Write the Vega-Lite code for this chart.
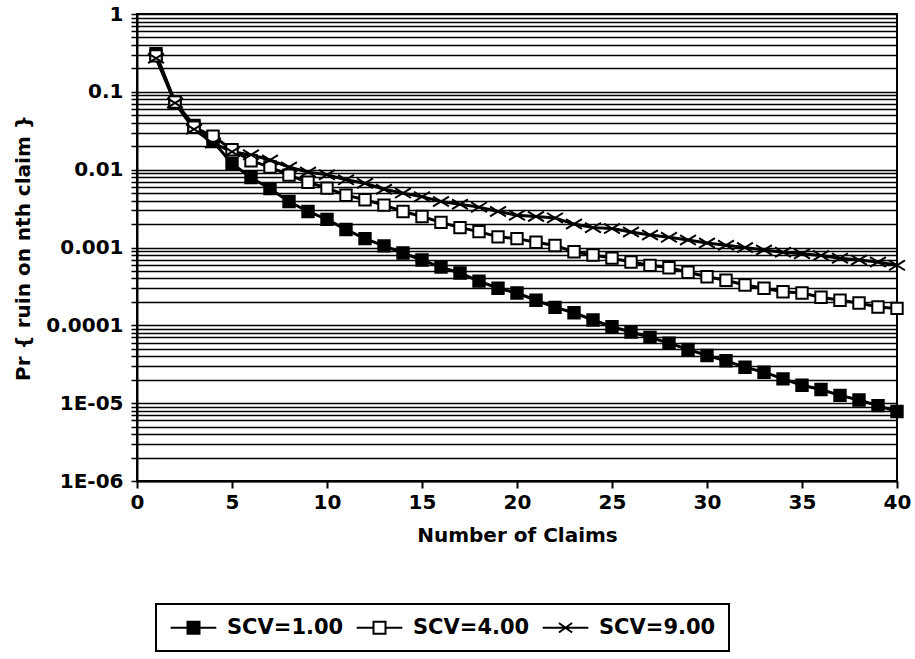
{
  "$schema": "https://vega.github.io/schema/vega-lite/v6.json",
  "width": 760,
  "height": 467,
  "autosize": {"type": "none"},
  "padding": {"left": 137, "top": 14, "right": 18, "bottom": 178},
  "background": "white",
  "config": {"view": {"stroke": "black", "strokeWidth": 2}, "font": "DejaVu Sans", "legend": {"strokeWidth": 2, "symbolStrokeColor": "black", "symbolStrokeWidth": 2}},
  "data": {"values": [
    {"n":1,"s":"SCV=1.00","p":0.31},{"n":2,"s":"SCV=1.00","p":0.074},{"n":3,"s":"SCV=1.00","p":0.037},{"n":4,"s":"SCV=1.00","p":0.023},{"n":5,"s":"SCV=1.00","p":0.012},
    {"n":6,"s":"SCV=1.00","p":0.0079},{"n":7,"s":"SCV=1.00","p":0.0057},{"n":8,"s":"SCV=1.00","p":0.0039},{"n":9,"s":"SCV=1.00","p":0.0029},{"n":10,"s":"SCV=1.00","p":0.0023},
    {"n":11,"s":"SCV=1.00","p":0.0017},{"n":12,"s":"SCV=1.00","p":0.0013},{"n":13,"s":"SCV=1.00","p":0.00105},{"n":14,"s":"SCV=1.00","p":0.00085},{"n":15,"s":"SCV=1.00","p":0.00069},
    {"n":16,"s":"SCV=1.00","p":0.00056},{"n":17,"s":"SCV=1.00","p":0.00047},{"n":18,"s":"SCV=1.00","p":0.00037},{"n":19,"s":"SCV=1.00","p":0.0003},{"n":20,"s":"SCV=1.00","p":0.00026},
    {"n":21,"s":"SCV=1.00","p":0.00021},{"n":22,"s":"SCV=1.00","p":0.00017},{"n":23,"s":"SCV=1.00","p":0.000145},{"n":24,"s":"SCV=1.00","p":0.000117},{"n":25,"s":"SCV=1.00","p":0.000096},
    {"n":26,"s":"SCV=1.00","p":0.000082},{"n":27,"s":"SCV=1.00","p":0.00007},{"n":28,"s":"SCV=1.00","p":0.000059},{"n":29,"s":"SCV=1.00","p":0.000049},{"n":30,"s":"SCV=1.00","p":0.000041},
    {"n":31,"s":"SCV=1.00","p":0.000035},{"n":32,"s":"SCV=1.00","p":0.000029},{"n":33,"s":"SCV=1.00","p":0.000025},{"n":34,"s":"SCV=1.00","p":0.0000205},{"n":35,"s":"SCV=1.00","p":0.000017},
    {"n":36,"s":"SCV=1.00","p":0.000015},{"n":37,"s":"SCV=1.00","p":0.0000126},{"n":38,"s":"SCV=1.00","p":0.000011},{"n":39,"s":"SCV=1.00","p":0.0000093},{"n":40,"s":"SCV=1.00","p":0.0000078},
    {"n":1,"s":"SCV=4.00","p":0.29},{"n":2,"s":"SCV=4.00","p":0.074},{"n":3,"s":"SCV=4.00","p":0.035},{"n":4,"s":"SCV=4.00","p":0.027},{"n":5,"s":"SCV=4.00","p":0.018},
    {"n":6,"s":"SCV=4.00","p":0.013},{"n":7,"s":"SCV=4.00","p":0.0108},{"n":8,"s":"SCV=4.00","p":0.0085},{"n":9,"s":"SCV=4.00","p":0.0069},{"n":10,"s":"SCV=4.00","p":0.0058},
    {"n":11,"s":"SCV=4.00","p":0.0047},{"n":12,"s":"SCV=4.00","p":0.0041},{"n":13,"s":"SCV=4.00","p":0.0035},{"n":14,"s":"SCV=4.00","p":0.0029},{"n":15,"s":"SCV=4.00","p":0.0025},
    {"n":16,"s":"SCV=4.00","p":0.0021},{"n":17,"s":"SCV=4.00","p":0.0018},{"n":18,"s":"SCV=4.00","p":0.0016},{"n":19,"s":"SCV=4.00","p":0.00137},{"n":20,"s":"SCV=4.00","p":0.0013},
    {"n":21,"s":"SCV=4.00","p":0.00117},{"n":22,"s":"SCV=4.00","p":0.00106},{"n":23,"s":"SCV=4.00","p":0.00088},{"n":24,"s":"SCV=4.00","p":0.0008},{"n":25,"s":"SCV=4.00","p":0.00073},
    {"n":26,"s":"SCV=4.00","p":0.00065},{"n":27,"s":"SCV=4.00","p":0.00059},{"n":28,"s":"SCV=4.00","p":0.00055},{"n":29,"s":"SCV=4.00","p":0.00048},{"n":30,"s":"SCV=4.00","p":0.00042},
    {"n":31,"s":"SCV=4.00","p":0.00038},{"n":32,"s":"SCV=4.00","p":0.00033},{"n":33,"s":"SCV=4.00","p":0.0003},{"n":34,"s":"SCV=4.00","p":0.00027},{"n":35,"s":"SCV=4.00","p":0.00026},
    {"n":36,"s":"SCV=4.00","p":0.00023},{"n":37,"s":"SCV=4.00","p":0.00021},{"n":38,"s":"SCV=4.00","p":0.000194},{"n":39,"s":"SCV=4.00","p":0.000172},{"n":40,"s":"SCV=4.00","p":0.000165},
    {"n":1,"s":"SCV=9.00","p":0.27},{"n":2,"s":"SCV=9.00","p":0.072},{"n":3,"s":"SCV=9.00","p":0.033},{"n":4,"s":"SCV=9.00","p":0.022},{"n":5,"s":"SCV=9.00","p":0.017},
    {"n":6,"s":"SCV=9.00","p":0.0155},{"n":7,"s":"SCV=9.00","p":0.0133},{"n":8,"s":"SCV=9.00","p":0.0108},{"n":9,"s":"SCV=9.00","p":0.0093},{"n":10,"s":"SCV=9.00","p":0.0086},
    {"n":11,"s":"SCV=9.00","p":0.0074},{"n":12,"s":"SCV=9.00","p":0.0067},{"n":13,"s":"SCV=9.00","p":0.0056},{"n":14,"s":"SCV=9.00","p":0.005},{"n":15,"s":"SCV=9.00","p":0.0045},
    {"n":16,"s":"SCV=9.00","p":0.0039},{"n":17,"s":"SCV=9.00","p":0.0036},{"n":18,"s":"SCV=9.00","p":0.0033},{"n":19,"s":"SCV=9.00","p":0.0029},{"n":20,"s":"SCV=9.00","p":0.0026},
    {"n":21,"s":"SCV=9.00","p":0.0025},{"n":22,"s":"SCV=9.00","p":0.0024},{"n":23,"s":"SCV=9.00","p":0.002},{"n":24,"s":"SCV=9.00","p":0.0018},{"n":25,"s":"SCV=9.00","p":0.00175},
    {"n":26,"s":"SCV=9.00","p":0.00158},{"n":27,"s":"SCV=9.00","p":0.00145},{"n":28,"s":"SCV=9.00","p":0.00135},{"n":29,"s":"SCV=9.00","p":0.00125},{"n":30,"s":"SCV=9.00","p":0.00114},
    {"n":31,"s":"SCV=9.00","p":0.00107},{"n":32,"s":"SCV=9.00","p":0.001},{"n":33,"s":"SCV=9.00","p":0.00093},{"n":34,"s":"SCV=9.00","p":0.00087},{"n":35,"s":"SCV=9.00","p":0.00083},
    {"n":36,"s":"SCV=9.00","p":0.00079},{"n":37,"s":"SCV=9.00","p":0.00073},{"n":38,"s":"SCV=9.00","p":0.00069},{"n":39,"s":"SCV=9.00","p":0.00065},{"n":40,"s":"SCV=9.00","p":0.00059}
  ]},
  "encoding": {
    "x": {
      "field": "n", "type": "quantitative",
      "scale": {"domain": [0, 40], "nice": false, "zero": false},
      "axis": {
        "values": [0, 5, 10, 15, 20, 25, 30, 35, 40],
        "title": "Number of Claims", "grid": false,
        "domainColor": "black", "domainWidth": 2,
        "tickColor": "black", "tickWidth": 2, "tickSize": 7,
        "labelFont": "DejaVu Sans", "labelFontWeight": "bold", "labelFontSize": 20, "labelColor": "black",
        "labelPadding": 4, "labelFlush": false,
        "titleFont": "DejaVu Sans", "titleFontWeight": "bold", "titleFontSize": 20, "titleColor": "black", "titlePadding": 13
      }
    },
    "y": {
      "field": "p", "type": "quantitative",
      "scale": {"type": "log", "domain": [1e-6, 1], "nice": false},
      "axis": {
        "values": [1e-6,2e-6,3e-6,4e-6,5e-6,6e-6,7e-6,8e-6,9e-6,1e-5,2e-5,3e-5,4e-5,5e-5,6e-5,7e-5,8e-5,9e-5,1e-4,2e-4,3e-4,4e-4,5e-4,6e-4,7e-4,8e-4,9e-4,1e-3,2e-3,3e-3,4e-3,5e-3,6e-3,7e-3,8e-3,9e-3,0.01,0.02,0.03,0.04,0.05,0.06,0.07,0.08,0.09,0.1,0.2,0.3,0.4,0.5,0.6,0.7,0.8,0.9,1],
        "labelExpr": "datum.value == 1 ? '1' : datum.value == 0.1 ? '0.1' : datum.value == 0.01 ? '0.01' : datum.value == 0.001 ? '0.001' : datum.value == 0.0001 ? '0.0001' : datum.value == 0.00001 ? '1E-05' : datum.value == 0.000001 ? '1E-06' : ''",
        "labelOverlap": false,
        "title": "Pr { ruin on nth claim }",
        "grid": true, "gridColor": "black", "gridWidth": 1.6, "gridOpacity": 1,
        "domainColor": "black", "domainWidth": 2,
        "tickColor": "black", "tickWidth": 1.5, "tickSize": 6,
        "labelFont": "DejaVu Sans", "labelFontWeight": "bold", "labelFontSize": 20, "labelColor": "black",
        "labelPadding": 8,
        "titleFont": "DejaVu Sans", "titleFontWeight": "bold", "titleFontSize": 20, "titleColor": "black", "titlePadding": 12
      }
    }
  },
  "layer": [
    {
      "mark": {"type": "line", "color": "black", "strokeWidth": 3},
      "encoding": {"detail": {"field": "s", "type": "nominal"}}
    },
    {
      "transform": [{"filter": "datum.s === 'SCV=1.00'"}],
      "mark": {"type": "point", "shape": "square", "filled": true, "fill": "black", "stroke": "black", "strokeWidth": 2, "opacity": 1, "size": 130}
    },
    {
      "transform": [{"filter": "datum.s === 'SCV=4.00'"}],
      "mark": {"type": "point", "shape": "square", "filled": true, "fill": "white", "stroke": "black", "strokeWidth": 2, "opacity": 1, "size": 130}
    },
    {
      "transform": [{"filter": "datum.s === 'SCV=9.00'"}],
      "mark": {"type": "point", "shape": "M-1.3,-0.8L1.3,0.8M-1.3,0.8L1.3,-0.8", "filled": false, "fill": "transparent", "stroke": "black", "strokeWidth": 2, "opacity": 1, "size": 150}
    },
    {
      "transform": [{"filter": "datum.n > 1000"}],
      "mark": {"type": "point", "filled": false, "strokeWidth": 2, "opacity": 1, "size": 144},
      "encoding": {
        "color": {
          "field": "s", "type": "nominal",
          "scale": {"domain": ["SCV=1.00", "SCV=4.00", "SCV=9.00"], "range": ["black", "black", "black"]},
          "legend": {
            "title": null, "orient": "none", "legendX": 19, "legendY": 590, "direction": "horizontal",
            "strokeColor": "black", "padding": 13,
            "symbolSize": 144, "symbolStrokeWidth": 2, "symbolOffset": 14,
            "labelOffset": 23, "labelFont": "DejaVu Sans", "labelFontWeight": "bold", "labelFontSize": 21, "labelColor": "black",
            "columnPadding": 8
          }
        },
        "shape": {
          "field": "s", "type": "nominal",
          "scale": {"domain": ["SCV=1.00", "SCV=4.00", "SCV=9.00"], "range": ["M-3.8,0H3.8M-1,-1H1V1H-1Z", "M-3.8,0H-1M1,0H3.8M-1,-1H1V1H-1Z", "M-3.8,0H3.8M-1.1,-0.8L1.1,0.8M-1.1,0.8L1.1,-0.8"]},
          "legend": {
            "title": null, "orient": "none", "legendX": 19, "legendY": 590, "direction": "horizontal",
            "strokeColor": "black", "padding": 13,
            "symbolSize": 144, "symbolStrokeWidth": 2, "symbolOffset": 14,
            "labelOffset": 23, "labelFont": "DejaVu Sans", "labelFontWeight": "bold", "labelFontSize": 21, "labelColor": "black",
            "columnPadding": 8
          }
        },
        "fill": {
          "field": "s", "type": "nominal",
          "scale": {"domain": ["SCV=1.00", "SCV=4.00", "SCV=9.00"], "range": ["black", "white", "transparent"]},
          "legend": {
            "title": null, "orient": "none", "legendX": 19, "legendY": 590, "direction": "horizontal",
            "strokeColor": "black", "padding": 13,
            "symbolSize": 144, "symbolStrokeWidth": 2, "symbolOffset": 14,
            "labelOffset": 23, "labelFont": "DejaVu Sans", "labelFontWeight": "bold", "labelFontSize": 21, "labelColor": "black",
            "columnPadding": 8
          }
        }
      }
    }
  ]
}
